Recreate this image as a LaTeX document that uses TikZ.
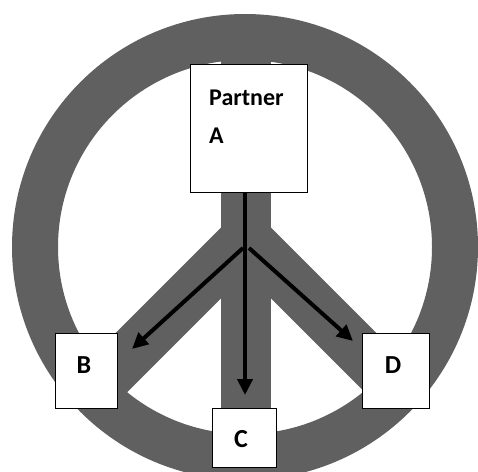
\documentclass[tikz,border=0pt]{standalone}
\usepackage{fontspec}
\setmainfont{Carlito}
\usetikzlibrary{arrows.meta}
\definecolor{symgray}{RGB}{96,96,96}
\begin{document}
\begin{tikzpicture}[x=1pt,y=-1pt,
  box/.style={draw=black, line width=0.9pt, fill=white, inner sep=0pt},
  lbl/.style={font=\bfseries\fontsize{24}{24}\selectfont, inner sep=0pt},
  biglbl/.style={font=\bfseries\fontsize{26}{26}\selectfont, inner sep=0pt},
  bar/.style={line width=50pt, draw=symgray},
  arr/.style={line width=4pt, -{Triangle[length=16pt,width=15pt]}}]
\clip (0,0) rectangle (478,471);
\fill[white] (0,0) rectangle (478,471);
% peace symbol
\draw[line width=46pt, symgray] (245,247) circle[radius=210pt];
\begin{scope}
  \clip (245,247) circle[radius=232pt];
  \draw[bar] (246,-10) -- (246,500);
  \draw[bar, line join=miter] (-54,538) -- (246,238) -- (546,538);
\end{scope}
% boxes
\node[box, minimum width=117pt, minimum height=128pt] (A) at (248.5,128) {};
\node[box, minimum width=62pt, minimum height=75pt] (B) at (86,370.5) {};
\node[box, minimum width=64pt, minimum height=59pt] (C) at (244,437.5) {};
\node[box, minimum width=67pt, minimum height=75pt] (D) at (395.5,370.5) {};
% labels
\node[lbl, anchor=base west] (tA1) at (209,105) {Partner};
\node[lbl, anchor=base west] (tA2) at (209,143) {A};
\node[biglbl, anchor=base] (tB) at (84,373) {B};
\node[biglbl, anchor=base] (tC) at (241,447) {C};
\node[biglbl, anchor=base] (tD) at (393,373) {D};
% arrows
\coordinate (jl) at (243,248);
\coordinate (jr) at (249,248);
\coordinate (tb) at (132,349);
\coordinate (tc) at (245,395);
\coordinate (td) at (353,341);
\draw[arr] (A.south -| tc) -- (tc);
\draw[arr] (jl) -- (tb);
\draw[arr] (jr) -- (td);
\end{tikzpicture}
\end{document}
